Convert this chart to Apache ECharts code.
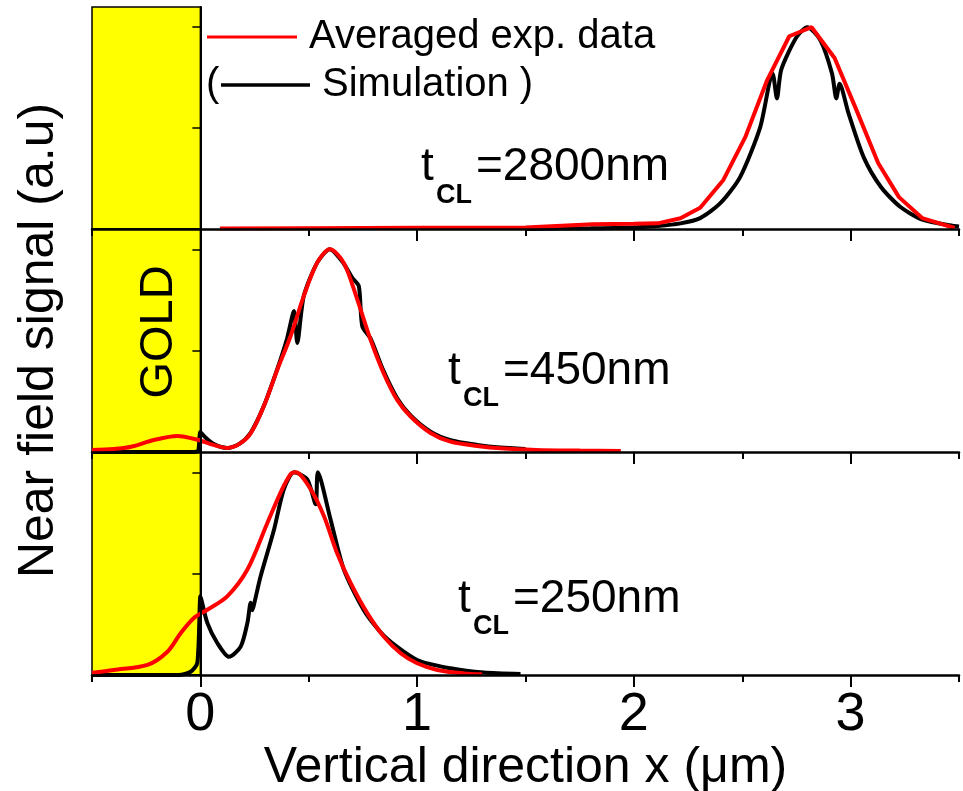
<!DOCTYPE html>
<html><head><meta charset="utf-8">
<script src="https://cdn.jsdelivr.net/npm/echarts@6/dist/echarts.min.js"></script>
<style>html,body{margin:0;padding:0;background:#fff}#c{width:963px;height:791px}</style>
</head><body><div id="c"></div>
<script>
// ---- tick values / labels ----
const xTickValues = [0, 1, 2, 3];
const xTickLabels = ['0', '1', '2', '3'];
const xHalfTickValues = [-0.5, 0.5, 1.5, 2.5, 3.5];
const yTickValues = [0, 0.5, 1];
const goldRange = [-0.5, 0];
const panelThickness = ['2800nm', '450nm', '250nm'];

// ---- t_CL = 2800 nm (top panel) ----
const exp2800X = [0.09, 0.5, 1.0, 1.5, 1.81, 2.0, 2.11, 2.215, 2.306, 2.413, 2.514, 2.615, 2.717, 2.82, 2.926, 3.027, 3.127, 3.223, 3.33, 3.48];
const exp2800Y = [0.003, 0.004, 0.006, 0.008, 0.023, 0.026, 0.028, 0.053, 0.105, 0.243, 0.455, 0.738, 0.955, 1.0, 0.847, 0.589, 0.327, 0.158, 0.054, 0.005];
const sim2800X = [1.5, 1.8, 2.0, 2.11, 2.215, 2.306, 2.4, 2.49, 2.583, 2.64, 2.66, 2.68, 2.75, 2.8, 2.86, 2.914, 2.934, 2.949, 2.99, 3.06, 3.14, 3.23, 3.335, 3.48, 3.5];
const sim2800Y = [0.0, 0.004, 0.008, 0.015, 0.028, 0.054, 0.129, 0.257, 0.505, 0.771, 0.647, 0.79, 0.95, 1.0, 0.936, 0.771, 0.647, 0.72, 0.574, 0.356, 0.208, 0.109, 0.045, 0.015, 0.012];

// ---- t_CL = 450 nm (middle panel) ----
const exp450X = [-0.5, -0.4, -0.32, -0.215, -0.106, -0.008, 0.06, 0.124, 0.18, 0.232, 0.292, 0.355, 0.416, 0.477, 0.539, 0.597, 0.661, 0.724, 0.785, 0.845, 0.908, 0.97, 1.062, 1.154, 1.277, 1.384, 1.55, 1.75, 1.94];
const exp450Y = [0.01, 0.015, 0.026, 0.059, 0.079, 0.059, 0.035, 0.02, 0.04, 0.092, 0.224, 0.406, 0.571, 0.769, 0.934, 1.0, 0.934, 0.752, 0.554, 0.39, 0.257, 0.175, 0.094, 0.051, 0.03, 0.018, 0.01, 0.007, 0.005];
const sim450X = [-0.5, -0.03, -0.01, 0.0, 0.02, 0.06, 0.124, 0.18, 0.232, 0.292, 0.355, 0.40, 0.432, 0.447, 0.477, 0.539, 0.597, 0.661, 0.70, 0.731, 0.747, 0.785, 0.845, 0.908, 0.97, 1.062, 1.154, 1.277, 1.384, 1.5];
const sim450Y = [0.0, 0.0, 0.005, 0.099, 0.075, 0.04, 0.02, 0.04, 0.095, 0.225, 0.41, 0.56, 0.695, 0.538, 0.769, 0.934, 1.0, 0.93, 0.86, 0.818, 0.62, 0.56, 0.40, 0.265, 0.18, 0.10, 0.058, 0.035, 0.022, 0.015];

// ---- t_CL = 250 nm (bottom panel) ----
const exp250X = [-0.5, -0.4, -0.244, -0.152, -0.091, -0.03, 0.032, 0.124, 0.217, 0.309, 0.37, 0.416, 0.44, 0.509, 0.57, 0.631, 0.693, 0.77, 0.846, 0.924, 1.0, 1.093, 1.215, 1.3];
const exp250Y = [0.011, 0.025, 0.05, 0.115, 0.206, 0.281, 0.322, 0.388, 0.52, 0.75, 0.9, 0.99, 1.0, 0.916, 0.784, 0.6, 0.454, 0.305, 0.19, 0.107, 0.058, 0.025, 0.008, 0.004];
const sim250X = [-0.5, -0.1, -0.045, -0.014, 0.0, 0.005, 0.032, 0.078, 0.132, 0.186, 0.217, 0.232, 0.24, 0.25, 0.278, 0.34, 0.385, 0.432, 0.493, 0.532, 0.542, 0.6, 0.662, 0.754, 0.85, 1.0, 1.154, 1.308, 1.477];
const sim250Y = [0.0, 0.0, 0.016, 0.06, 0.388, 0.37, 0.257, 0.158, 0.09, 0.14, 0.257, 0.356, 0.32, 0.36, 0.487, 0.718, 0.916, 1.0, 0.965, 0.842, 1.0, 0.77, 0.52, 0.32, 0.19, 0.074, 0.033, 0.012, 0.005];

const zip = (xs, ys) => xs.map((x, i) => [x, ys[i]]);
const expSets = [zip(exp2800X, exp2800Y), zip(exp450X, exp450Y), zip(exp250X, exp250Y)];
const simSets = [zip(sim2800X, sim2800Y), zip(sim450X, sim450Y), zip(sim250X, sim250Y)];

const FONT = "'Liberation Sans', Arial, sans-serif";
const grids = [
  {left: 92, right: 4, top: 7, height: 222, outerBoundsMode: 'none', containLabel: false},
  {left: 92, right: 4, top: 229, height: 223, outerBoundsMode: 'none', containLabel: false},
  {left: 92, right: 4, top: 452, height: 223, outerBoundsMode: 'none', containLabel: false}
];

const xAxes = [], yAxes = [], series = [];
grids.forEach((g, i) => {
  xAxes.push({
    gridIndex: i, type: 'value', min: -0.5, max: 3.5, position: 'bottom', z: 10,
    axisLine: {show: true, lineStyle: {color: '#000', width: 2.5}},
    axisTick: {show: true, customValues: xTickValues, length: 12, lineStyle: {color: '#000', width: 2}},
    axisLabel: {show: i === 2, customValues: xTickValues,
      formatter: v => xTickLabels[xTickValues.indexOf(v)] ?? '',
      fontSize: 54, color: '#000', fontFamily: FONT, margin: 13},
    splitLine: {show: false},
    name: i === 2 ? 'Vertical direction x (\u03bcm)' : '',
    nameLocation: 'middle', nameGap: 52,
    nameTextStyle: {fontSize: 50, color: '#000', fontFamily: FONT}
  });
  xAxes.push({
    gridIndex: i, type: 'value', min: -0.5, max: 3.5, position: 'bottom', z: 10,
    axisLine: {show: false},
    axisTick: {show: true, customValues: xHalfTickValues, length: 7, lineStyle: {color: '#000', width: 2}},
    axisLabel: {show: false}, splitLine: {show: false}
  });
  yAxes.push({
    gridIndex: i, type: 'value', min: 0, max: 1.1, z: 10,
    axisLine: {show: true, lineStyle: {color: '#000', width: 2}},
    axisTick: {show: true, customValues: yTickValues, length: 8, lineStyle: {color: '#000', width: 1.5}},
    axisLabel: {show: false}, splitLine: {show: false},
    name: i === 1 ? 'Near field signal (a.u)' : '',
    nameLocation: 'middle', nameGap: 28, nameRotate: 90,
    nameTextStyle: {fontSize: 50, color: '#000', fontFamily: FONT}
  });
  series.push({
    type: 'line', xAxisIndex: 2 * i, yAxisIndex: i, data: [], z: 1, silent: true,
    markArea: {silent: true, itemStyle: {color: '#ffff00', borderColor: '#000', borderWidth: 1.5},
      data: [[{xAxis: goldRange[0]}, {xAxis: goldRange[1]}]]}
  });
  series.push({
    name: 'Simulation', type: 'line', xAxisIndex: 2 * i, yAxisIndex: i, z: 3,
    data: simSets[i], showSymbol: false, smooth: 0.25,
    lineStyle: {color: '#000', width: 4}
  });
  series.push({
    name: 'Averaged exp. data', type: 'line', xAxisIndex: 2 * i, yAxisIndex: i, z: 4,
    data: expSets[i], showSymbol: false, smooth: i === 0 ? false : 0.3,
    lineStyle: {color: '#ff0000', width: 4}
  });
});

// panel labels: t_CL = ...
const labelPos = [
  {x: 421, y: 169, sy: 195},
  {x: 448, y: 373, sy: 398},
  {x: 458, y: 601, sy: 626}
];
const graphics = [];
labelPos.forEach((p, i) => {
  graphics.push({type: 'text', left: p.x, top: p.y - 25, style: {text: 't', fontSize: 46, fill: '#000', fontFamily: FONT}});
  graphics.push({type: 'text', left: p.x + 15, top: p.sy - 13, style: {text: 'CL', fontSize: 27, fontWeight: 'bold', fill: '#000', fontFamily: FONT}});
  graphics.push({type: 'text', left: p.x + 55, top: p.y - 25, style: {text: '=' + panelThickness[i], fontSize: 46, fill: '#000', fontFamily: FONT}});
});
// legend
graphics.push({type: 'line', shape: {x1: 207, y1: 37, x2: 297, y2: 37}, style: {stroke: '#ff0000', lineWidth: 3}});
graphics.push({type: 'text', left: 309, top: 17, style: {text: 'Averaged exp. data', fontSize: 40, fill: '#000', fontFamily: FONT}});
graphics.push({type: 'text', left: 206, top: 65, style: {text: '(', fontSize: 40, fill: '#000', fontFamily: FONT}});
graphics.push({type: 'line', shape: {x1: 221, y1: 85, x2: 310, y2: 85}, style: {stroke: '#000', lineWidth: 3.5}});
graphics.push({type: 'text', left: 322, top: 65, style: {text: 'Simulation )', fontSize: 40, fill: '#000', fontFamily: FONT}});
// GOLD
graphics.push({type: 'text', x: 159, y: 332, rotation: Math.PI / 2, z: 20,
  style: {text: 'GOLD', fontSize: 47, fill: '#000', fontFamily: FONT, align: 'center', verticalAlign: 'middle'}});

const chart = echarts.init(document.getElementById('c'), null, {renderer: 'canvas'});
chart.setOption({
  animation: false,
  backgroundColor: '#fff',
  grid: grids,
  xAxis: xAxes,
  yAxis: yAxes,
  series: series,
  graphic: graphics
});
</script></body></html>
